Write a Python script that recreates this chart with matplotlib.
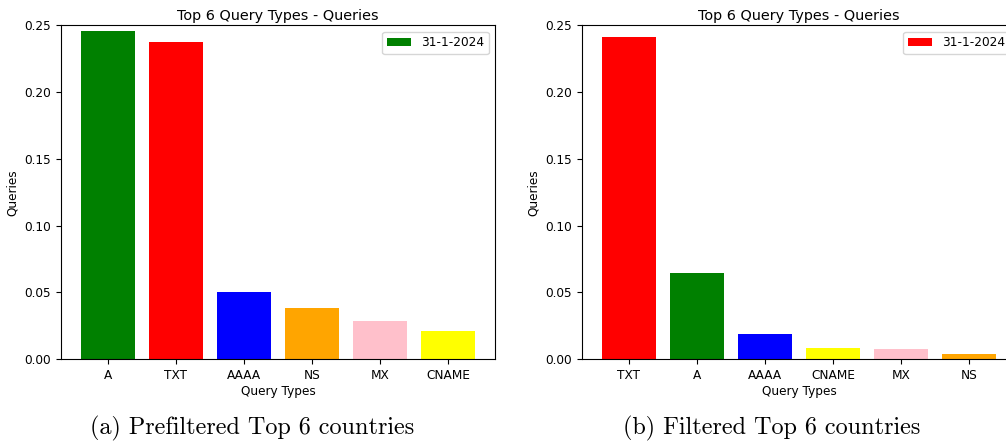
import matplotlib.pyplot as plt

date_label = '31-1-2024'

pre_types = ['A', 'TXT', 'AAAA', 'NS', 'MX', 'CNAME']
pre_values = [0.2455, 0.2375, 0.0499, 0.0382, 0.0282, 0.0207]
pre_colors = ['green', 'red', 'blue', 'orange', 'pink', 'yellow']

post_types = ['TXT', 'A', 'AAAA', 'CNAME', 'MX', 'NS']
post_values = [0.2413, 0.0643, 0.0184, 0.0083, 0.0075, 0.0035]
post_colors = ['red', 'green', 'blue', 'yellow', 'pink', 'orange']

captions = ['(a) Prefiltered Top 6 countries', '(b) Filtered Top 6 countries']

fig = plt.figure(figsize=(10.06, 4.44), dpi=100)
ax1 = fig.add_axes([0.0606, 0.1914, 0.4314, 0.7512])
ax2 = fig.add_axes([0.5785, 0.1914, 0.4314, 0.7512])

for ax, types, values, colors in [(ax1, pre_types, pre_values, pre_colors),
                                  (ax2, post_types, post_values, post_colors)]:
    ax.bar(types, values, color=colors, label=date_label)
    ax.set_ylim(0, 0.25)
    ax.set_title('Top 6 Query Types - Queries', fontsize=10.4, pad=4)
    ax.set_xlabel('Query Types', fontsize=8.7, labelpad=2)
    ax.set_ylabel('Queries', fontsize=8.7)
    ax.tick_params(labelsize=8.7)
    ax.legend(loc='upper right', fontsize=8.7)

fig.text(0.251, 0.036, captions[0], family='cmr10', fontsize=17.4, ha='center', va='center')
fig.text(0.7675, 0.036, captions[1], family='cmr10', fontsize=17.4, ha='center', va='center')

plt.savefig('out.png', dpi=100)
